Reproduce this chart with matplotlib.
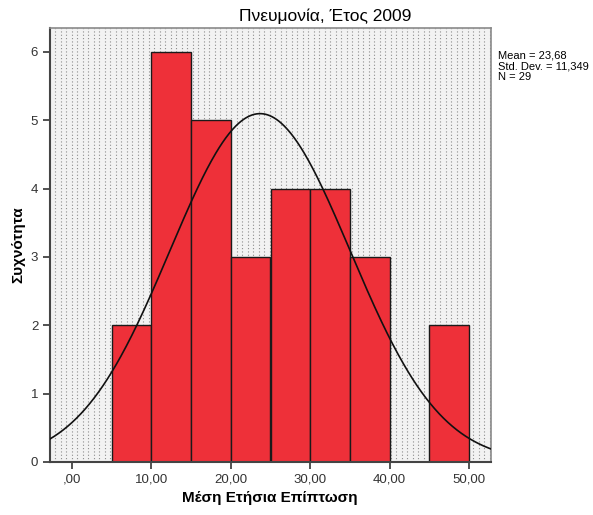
import numpy as np
import matplotlib
matplotlib.use("Agg")
import matplotlib.pyplot as plt

# Histogram of mean annual incidence (bin width 5)
bin_left = [5, 10, 15, 20, 25, 30, 35, 40, 45]
counts = [2, 6, 5, 3, 4, 4, 3, 0, 2]
bin_width = 5
mean_val = 23.68
std_val = 11.349
n_obs = 29

x_ticks = [0, 10, 20, 30, 40, 50]
x_tick_labels = [",00", "10,00", "20,00", "30,00", "40,00", "50,00"]
y_ticks = [0, 1, 2, 3, 4, 5, 6]

plt.rcParams['font.family'] = ['Liberation Sans', 'DejaVu Sans']

W, H = 593, 515
fig = plt.figure(figsize=(W / 100, H / 100), dpi=100)
ax = fig.add_axes([50 / W, 1 - 462 / H, 441 / W, 434 / H])

ax.set_xlim(-2.77, 52.77)
ax.set_ylim(0, 6.35)

# Light dotted background
ax.set_facecolor('#f2f2f2')
xs = np.arange(0.012, 1.0, 5.5 / 441)
ax.vlines(xs, 0, 1, transform=ax.transAxes, colors='#8c8c8c',
          linestyles=(0, (1, 2)), linewidth=0.8, zorder=0.5)

ax.bar(bin_left, counts, width=bin_width, align='edge', color='#ee3039',
       edgecolor='#1a1a1a', linewidth=1.0, zorder=2)

# Normal curve scaled to counts
xc = np.linspace(-2.77, 52.77, 400)
yc = n_obs * bin_width / (std_val * np.sqrt(2 * np.pi)) * np.exp(-0.5 * ((xc - mean_val) / std_val) ** 2)
ax.plot(xc, yc, color='#111111', linewidth=1.2, zorder=3)

ax.set_xticks(x_ticks)
ax.set_xticklabels(x_tick_labels)
ax.set_yticks(y_ticks)
ax.tick_params(axis='both', direction='out', length=5, width=1.2,
               color='#333333', labelcolor='#333333', labelsize=9.5)
ax.tick_params(axis='x', pad=3)

for side in ['left', 'bottom']:
    ax.spines[side].set_color('#444444')
    ax.spines[side].set_linewidth(1.5)
for side in ['top', 'right']:
    ax.spines[side].set_color('#8a8a8a')
    ax.spines[side].set_linewidth(1.2)

fig.text(270 / W, 1 - 498 / H, 'Μέση Ετήσια Επίπτωση', ha='center', va='center',
         fontsize=11, fontweight='bold')
fig.text(18 / W, 1 - 245 / H, 'Συχνότητα', ha='center', va='center',
         rotation=90, fontsize=11, fontweight='bold')

fig.text(325 / W, 1 - 16 / H, 'Πνευμονία, Έτος 2009', ha='center', va='center',
         fontsize=12.5)
fig.text(498 / W, 1 - 50 / H,
         'Mean = 23,68\nStd. Dev. = 11,349\nN = 29',
         ha='left', va='top', fontsize=8, linespacing=1.15)

fig.savefig('out.png', dpi=100)
